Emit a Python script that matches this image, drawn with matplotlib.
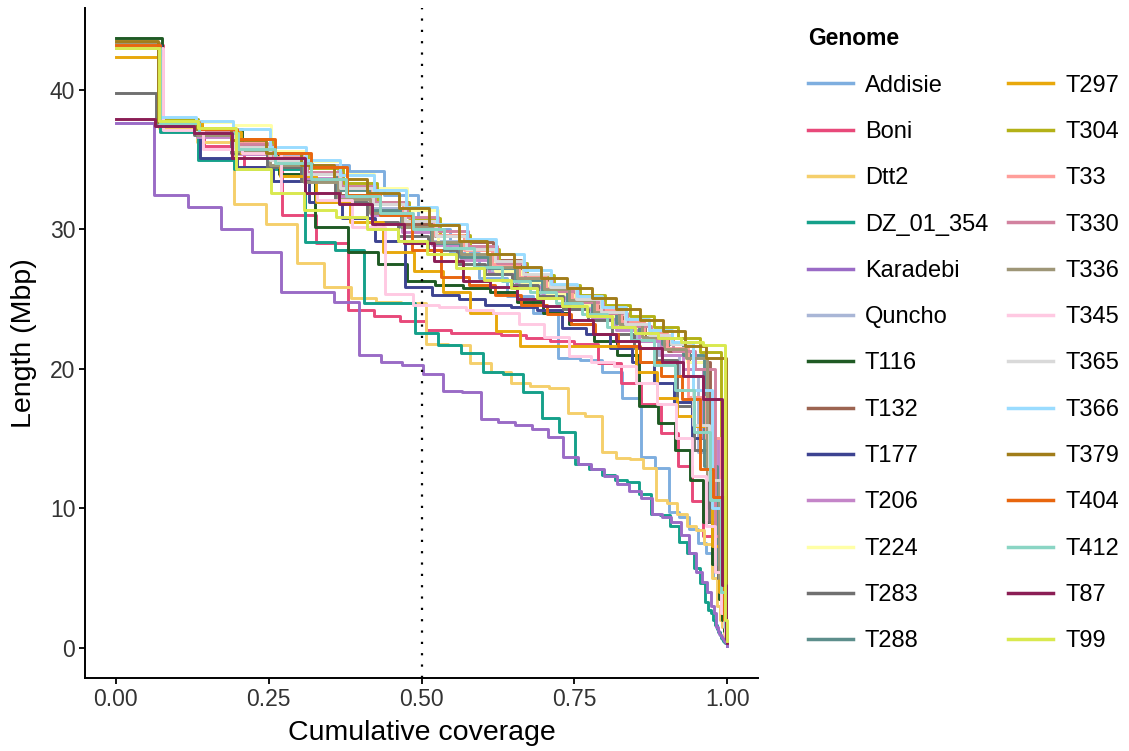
import numpy as np
import matplotlib
matplotlib.use("Agg")
import matplotlib.pyplot as plt

plt.rcParams['font.family'] = ['Liberation Sans', 'DejaVu Sans']

# contig lengths (Mbp), largest first, per genome
genomes = ['Addisie', 'Boni', 'Dtt2', 'DZ_01_354', 'Karadebi', 'Quncho', 'T116',
           'T132', 'T177', 'T206', 'T224', 'T283', 'T288', 'T297', 'T304', 'T33',
           'T330', 'T336', 'T345', 'T365', 'T366', 'T379', 'T404', 'T412', 'T87', 'T99']

addisie = [43.3, 37.6, 36.8, 35.6, 35.0, 34.6, 34.2, 32.5, 30.0, 28.3, 26.5, 25.2, 24.0,
           20.8, 20.6, 19.8, 17.9, 13.7, 12.9, 9.7, 9.4, 8.5, 7.5, 6.8, 5.0, 3.5, 2.2,
           1.5, 1.0, 0.6, 0.3]
boni = [43.2, 37.3, 36.0, 34.5, 31.0, 29.0, 24.2, 23.8, 23.4, 22.8, 22.6, 22.6, 22.4,
        22.2, 22.0, 21.8, 20.4, 19.0, 17.5, 15.4, 13.0, 10.5, 8.0, 5.5, 3.5, 2.0, 1.2,
        0.8, 0.5, 0.3]
dtt2 = [43.1, 37.3, 36.3, 31.8, 30.4, 27.6, 25.9, 25.1, 24.8, 24.7, 21.8, 21.7, 20.4,
        19.8, 19.0, 18.8, 18.6, 16.8, 16.6, 14.0, 13.6, 13.5, 12.9, 10.6, 10.4, 9.6,
        8.7, 8.4, 7.4, 5.0, 3.0, 2.0, 1.5, 1.0, 0.8, 0.6, 0.5, 0.4, 0.3, 0.2]
dz_01_354 = [43.0, 37.0, 35.0, 34.3, 34.3, 29.1, 28.5, 24.7, 24.7, 22.6, 21.7, 21.1, 19.8,
             19.6, 18.3, 16.5, 15.5, 13.2, 12.8, 12.4, 12.0, 11.9, 11.0, 9.6, 9.5, 8.7,
             7.6, 6.8, 5.7, 4.6, 3.3, 2.7, 2.5, 2.0, 1.6, 1.3, 1.1, 0.9, 0.8, 0.7, 0.6,
             0.5, 0.5, 0.5, 0.4, 0.4, 0.4, 0.3, 0.3, 0.3, 0.3, 0.2, 0.2, 0.2, 0.1]
karadebi = [37.6, 32.5, 31.6, 30.0, 28.4, 25.5, 25.5, 24.8, 21.0, 20.5, 20.3, 19.6, 18.4,
            18.3, 16.4, 16.2, 16.0, 15.7, 15.1, 13.7, 13.2, 12.8, 12.3, 11.7, 11.2, 10.7,
            9.6, 9.4, 9.0, 8.1, 6.8, 5.4, 4.7, 4.0, 3.0, 2.5, 1.5, 1.2, 1.0, 0.9, 0.8,
            0.7, 0.6, 0.6, 0.5, 0.5, 0.4, 0.4, 0.3, 0.3, 0.3, 0.2, 0.2, 0.2, 0.1]
quncho = [43.4, 37.8, 37.0, 36.2, 35.3, 34.6, 33.0, 31.5, 30.4, 29.2, 28.0, 27.0, 26.2,
          25.4, 24.6, 23.8, 23.0, 22.0, 21.0, 19.5, 14.0, 8.0, 4.0, 2.0, 1.0, 0.5]
t116 = [43.7, 37.6, 37.2, 35.5, 34.0, 30.2, 28.4, 27.5, 26.3, 26.0, 25.8, 25.5, 24.8, 24.0,
        23.2, 22.0, 21.0, 17.3, 16.1, 14.2, 12.0, 9.0, 6.0, 3.5, 2.0, 1.2, 0.8, 0.5, 0.3]
t132 = [43.3, 37.7, 37.0, 36.0, 35.0, 34.0, 32.5, 31.3, 30.4, 29.5, 29.1, 27.8, 26.5, 25.5,
        24.6, 23.8, 23.0, 22.2, 21.3, 20.5, 10.0, 4.0, 2.0, 1.0, 0.5]
t177 = [43.2, 37.5, 35.1, 34.5, 33.5, 32.0, 30.8, 29.2, 25.9, 25.3, 25.0, 24.6, 24.4, 24.2,
        22.9, 22.5, 21.5, 20.5, 19.0, 17.6, 15.0, 10.0, 5.0, 2.0, 1.0, 0.5]
t206 = [43.0, 37.5, 36.6, 35.4, 34.6, 33.7, 32.4, 31.0, 29.8, 28.9, 27.8, 26.9, 25.9, 25.1,
        24.3, 23.6, 22.8, 22.0, 21.0, 20.0, 15.0, 6.0, 2.0, 1.0, 0.5]
t224 = [43.0, 38.0, 37.7, 37.5, 35.6, 34.9, 34.0, 33.0, 31.4, 29.0, 28.0, 27.0, 26.2, 25.4,
        24.6, 23.8, 23.0, 22.2, 21.4, 20.5, 12.0, 5.0, 2.0, 1.0, 0.5]
t283 = [39.8, 37.4, 36.8, 35.5, 34.5, 33.5, 32.0, 30.5, 29.5, 28.5, 27.5, 26.8, 26.0, 25.2,
        24.3, 23.5, 22.5, 21.5, 20.6, 17.3, 14.2, 9.0, 5.0, 2.5, 1.2, 0.6, 0.3]
t288 = [43.0, 37.5, 36.9, 36.0, 35.0, 34.0, 32.8, 31.4, 30.2, 29.0, 28.0, 27.2, 26.4, 25.6,
        24.8, 24.0, 23.3, 22.6, 21.8, 21.0, 13.0, 6.0, 2.5, 1.2, 0.5]
t297 = [42.4, 37.8, 37.0, 35.5, 33.8, 32.0, 30.5, 28.4, 27.0, 25.5, 24.0, 22.7, 21.6, 21.6,
        21.6, 21.6, 21.6, 19.8, 17.9, 16.6, 15.9, 7.3, 4.0, 2.0, 1.0, 0.5]
t304 = [43.4, 37.9, 37.3, 36.5, 35.5, 34.4, 33.3, 32.0, 30.8, 29.6, 28.6, 27.6, 26.7, 26.0,
        25.3, 24.6, 23.8, 23.0, 22.2, 21.2, 4.0, 1.5, 0.5]
t33 = [43.2, 37.6, 37.0, 36.2, 35.2, 34.0, 33.0, 31.8, 30.6, 29.6, 28.5, 27.5, 26.6, 25.8,
       25.0, 24.2, 23.4, 22.6, 21.5, 18.0, 15.0, 4.0, 1.5, 0.5]
t330 = [43.1, 37.7, 37.1, 36.1, 35.0, 34.1, 33.1, 32.0, 30.9, 29.9, 28.8, 27.6, 26.5, 25.6,
        24.8, 24.0, 23.1, 22.2, 21.3, 20.0, 8.0, 3.0, 1.0, 0.5]
t336 = [43.4, 37.6, 36.8, 35.6, 34.6, 33.4, 32.2, 31.2, 30.2, 29.1, 28.2, 27.3, 26.5, 25.7,
        24.9, 24.1, 23.2, 22.3, 21.4, 20.8, 12.0, 5.0, 2.0, 1.0, 0.5]
t345 = [43.0, 37.1, 35.8, 35.5, 32.6, 32.1, 30.2, 25.4, 24.6, 24.4, 24.2, 24.0, 23.2, 22.3,
        20.9, 20.5, 20.2, 19.0, 17.5, 15.0, 12.3, 8.7, 5.4, 2.5, 1.5, 1.0, 0.5, 0.3]
t365 = [43.2, 37.6, 36.9, 35.9, 35.0, 34.0, 33.0, 31.8, 30.6, 29.5, 28.6, 27.7, 26.8, 25.9,
        25.0, 24.1, 23.2, 22.4, 21.8, 16.0, 12.0, 4.0, 1.5, 0.5]
t366 = [43.2, 38.1, 37.8, 37.2, 35.9, 35.0, 33.9, 32.8, 31.6, 30.4, 29.3, 28.2, 27.1, 26.1,
        25.2, 24.4, 23.6, 22.8, 21.9, 18.5, 10.0, 4.0, 1.5, 0.5]
t379 = [43.5, 37.7, 37.2, 36.4, 35.5, 34.6, 33.6, 32.6, 31.5, 30.3, 29.2, 28.2, 27.3, 26.5,
        25.8, 25.1, 24.3, 23.5, 22.7, 21.6, 20.8, 1.0, 0.5]
t404 = [43.2, 37.7, 37.2, 36.5, 35.5, 34.5, 32.5, 31.0, 28.5, 26.6, 26.0, 25.3, 24.6, 23.9,
        23.2, 22.5, 21.6, 20.5, 19.5, 17.8, 12.8, 10.8, 2.0, 0.8, 0.4]
t412 = [43.0, 37.6, 36.9, 35.8, 34.8, 33.6, 32.4, 31.2, 30.0, 28.7, 27.3, 26.3, 25.5, 24.7,
        23.9, 23.0, 22.1, 20.3, 18.5, 15.5, 10.6, 4.0, 1.5, 0.5]
t87 = [37.9, 37.4, 36.9, 35.1, 35.1, 32.6, 31.8, 30.4, 29.0, 27.7, 26.3, 25.9, 25.0, 24.5,
       23.5, 22.5, 22.0, 21.5, 20.5, 19.5, 17.8, 4.5, 0.6, 0.3]
t99 = [43.0, 37.8, 37.3, 34.3, 32.6, 31.4, 30.9, 30.0, 29.2, 28.2, 27.2, 26.4, 25.8, 25.1,
       24.5, 23.8, 23.0, 22.6, 22.2, 21.9, 21.7, 2.0, 0.5]

contigs = [addisie, boni, dtt2, dz_01_354, karadebi, quncho, t116, t132, t177, t206, t224,
           t283, t288, t297, t304, t33, t330, t336, t345, t365, t366, t379, t404, t412, t87, t99]

colors = ['#7EAEDF', '#E8497A', '#F5CF6B', '#15A08A', '#9A6BC6', '#A9B6D6', '#1F5A24',
          '#9C6451', '#3D4391', '#C485C8', '#FFFFA6', '#707070', '#5D8E8C', '#E8A80C',
          '#B3B117', '#FF9E9A', '#D2829F', '#9E9677', '#FFC9E2', '#D9D9D9', '#9ADCFF',
          '#A17D1A', '#E8660E', '#8AD5C4', '#8B1E55', '#D9E94E']

fig = plt.figure(figsize=(11.29, 7.51), dpi=100)
ax = fig.add_axes([85 / 1129, 73 / 751, 673 / 1129, 670 / 751])

ymax = 0
for name, lens, col in zip(genomes, contigs, colors):
    L = np.array(lens)
    cov = np.concatenate([[0], np.cumsum(L)[:-1]]) / L.sum()
    ax.step(cov, L, where='post', color=col, lw=2.1, label=name)
    ymax = max(ymax, L.max())

ax.axvline(0.5, color='black', lw=1.6, linestyle=(0, (1, 4.1)), zorder=10)

ax.set_xlim(-0.05, 1.05)
ax.set_ylim(-0.05 * ymax, 1.05 * ymax)
ax.set_xticks([0, 0.25, 0.5, 0.75, 1.0])
ax.set_xticklabels(['0.00', '0.25', '0.50', '0.75', '1.00'])
ax.set_yticks([0, 10, 20, 30, 40])
ax.tick_params(labelsize=16.5, labelcolor='#333333', length=4, width=1.3, pad=3,
               color='black')
for s in ['top', 'right']:
    ax.spines[s].set_visible(False)
for s in ['left', 'bottom']:
    ax.spines[s].set_linewidth(1.4)
ax.set_xlabel('Cumulative coverage', fontsize=20.5, labelpad=7)
ax.set_ylabel('Length (Mbp)', fontsize=20.5, labelpad=9)

leg = fig.legend(loc='upper left', bbox_to_anchor=(787 / 1129, 1 - 6 / 751), ncol=2,
                 frameon=False, fontsize=17, title='Genome', handlelength=1.9,
                 handletextpad=0.5, labelspacing=1.03, columnspacing=0.85,
                 alignment='left')
leg.get_title().set_fontsize(16.5)
leg.get_title().set_fontweight('bold')
for h in leg.get_lines():
    h.set_linewidth(2.5)

fig.savefig('out.png', dpi=100)
